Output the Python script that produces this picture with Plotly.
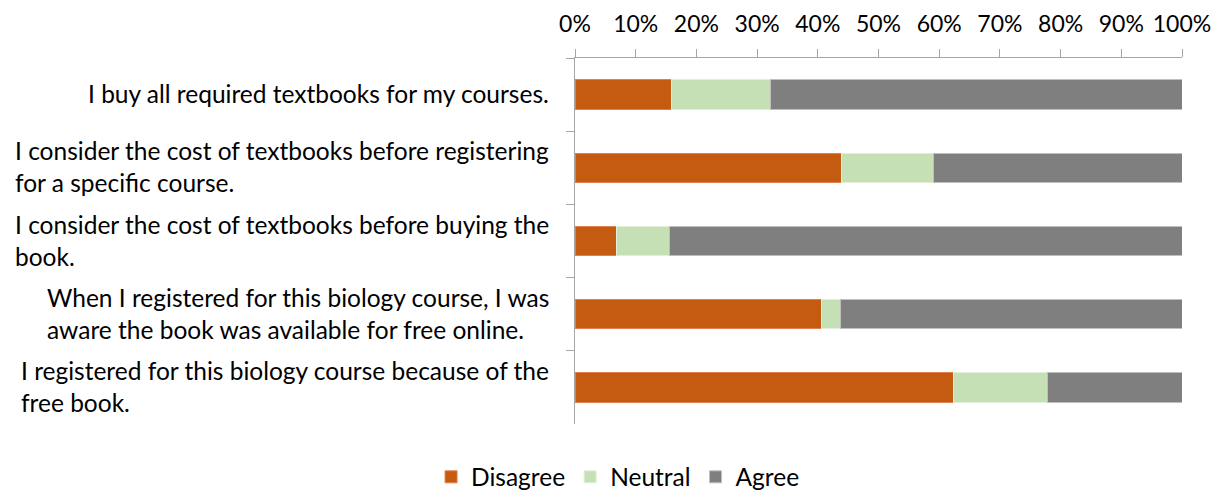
import plotly.graph_objects as go

categories = [
    "I buy all required textbooks for my courses.",
    "I consider the cost of textbooks before registering<br>for a specific course.",
    "I consider the cost of textbooks before buying the<br>book.",
    "When I registered for this biology course, I was<br>aware the book was available for free online.",
    "I registered for this biology course because of the<br>free book.",
]
disagree = [0.159, 0.439, 0.068, 0.406, 0.623]
neutral = [0.163, 0.151, 0.087, 0.032, 0.156]
agree = [0.678, 0.410, 0.845, 0.562, 0.221]

series = [("Disagree", disagree, "#C55A11", "#E08050"),
          ("Neutral", neutral, "#C5E0B4", "#E2F0D9"),
          ("Agree", agree, "#7F7F7F", "#BFBFBF")]

FONT = "Lato"
fig = go.Figure()
for name, vals, col, lc in series:
    fig.add_trace(go.Bar(
        y=categories, x=vals, name=name, orientation="h",
        marker=dict(color=col, line=dict(color=lc, width=1)),
        width=0.4,
    ))

for c in categories:
    fig.add_annotation(
        x=0, xref="paper", y=c, yref="y", text=c, showarrow=False,
        xanchor="right", align="left", xshift=-24, yshift=1,
        font=dict(family=FONT, size=24.5, color="#000000"),
    )

fig.update_layout(
    barmode="stack",
    width=1225, height=491,
    margin=dict(l=567, r=51, t=50, b=75, autoexpand=False),
    plot_bgcolor="white", paper_bgcolor="white",
    font=dict(family=FONT, size=23, color="#000000"),
    legend=dict(orientation="h", xref="container", yref="container",
                x=0.498, y=0.045, xanchor="center", yanchor="middle",
                font=dict(family=FONT, size=24.5), traceorder="normal",
                itemwidth=30),
    xaxis=dict(side="top", range=[0, 1], dtick=0.1, tick0=0, tickformat=".0%",
               showgrid=False, zeroline=False, showline=True, automargin=False,
               linecolor="#A6A6A6", linewidth=1, ticks="outside",
               tickcolor="#A6A6A6", ticklen=8, ticklabelstandoff=8,
               tickfont=dict(family=FONT, size=23)),
    yaxis=dict(autorange="reversed", showticklabels=False, showgrid=False,
               showline=True, linecolor="#A6A6A6", linewidth=1, automargin=False,
               ticks="outside", tickson="boundaries", tickcolor="#A6A6A6", ticklen=8),
)

fig.write_html("out.html")
